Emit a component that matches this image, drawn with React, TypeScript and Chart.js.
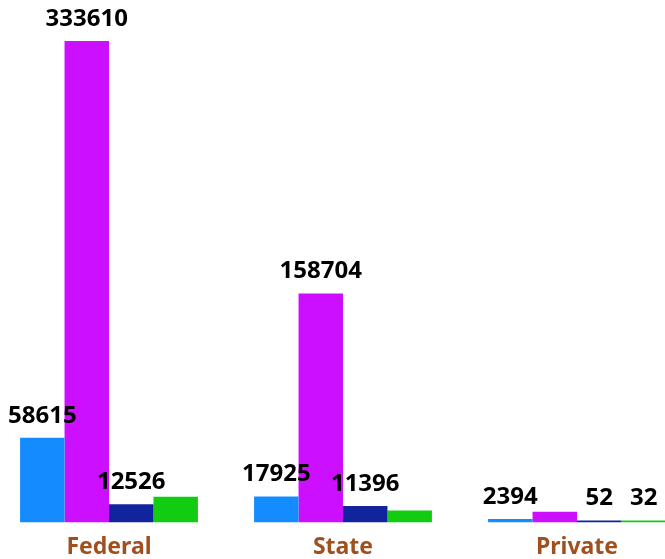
import React, { useEffect, useRef } from "react";
import { Chart, registerables } from "chart.js";

Chart.register(...registerables);

const categories = ["Federal", "State", "Private"];
const seriesNames = ["Series A", "Series B", "Series C", "Series D"];
const seriesA = [58615, 17925, 2394];
const seriesB = [333610, 158704, 7400];
const seriesC = [12526, 11396, 52];
const seriesD = [17800, 8300, 32];
const colors = ["#148CFF", "#CD0FFF", "#12239E", "#12CC12"];

const FONT = "'Noto Sans', 'Open Sans', sans-serif";

const labelPlugin = {
  id: "barLabels",
  afterDatasetsDraw(chart: any) {
    const ctx = chart.ctx;
    ctx.save();
    ctx.font = `bold 24px ${FONT}`;
    ctx.fillStyle = "#000";
    ctx.textAlign = "center";
    ctx.textBaseline = "middle";
    const drawn: { l: number; r: number; t: number; b: number }[] = [];
    chart.data.datasets.forEach((ds: any, i: number) => {
      const meta = chart.getDatasetMeta(i);
      meta.data.forEach((bar: any, j: number) => {
        const text = String(ds.data[j]);
        const w = ctx.measureText(text).width;
        const x = bar.x;
        const y = bar.y - 22;
        const rect = { l: x - w / 2, r: x + w / 2, t: y - 12, b: y + 12 };
        const hit = drawn.some(
          (d) => rect.l < d.r && rect.r > d.l && rect.t < d.b && rect.b > d.t
        );
        if (hit) return;
        drawn.push(rect);
        ctx.fillText(text, x, y);
      });
    });
    ctx.restore();
  },
};

export default function App() {
  const ref = useRef<HTMLCanvasElement>(null);
  useEffect(() => {
    if (!ref.current) return;
    const data = [seriesA, seriesB, seriesC, seriesD];
    const chart = new Chart(ref.current, {
      type: "bar",
      data: {
        labels: categories,
        datasets: data.map((d, i) => ({
          label: seriesNames[i],
          data: d,
          backgroundColor: colors[i],
          borderWidth: 0,
          minBarLength: 2,
          categoryPercentage: 0.76,
          barPercentage: 1,
        })),
      },
      options: {
        animation: false,
        responsive: true,
        maintainAspectRatio: false,
        layout: { padding: { top: 3, bottom: 0, left: 0, right: 0 } },
        plugins: { legend: { display: false }, tooltip: { enabled: false } },
        scales: {
          x: {
            grid: { display: false, drawTicks: false },
            border: { display: false },
            ticks: {
              color: "#A0501E",
              padding: 11,
              font: { family: FONT, size: 23, weight: "bold" },
            },
          },
          y: { display: false, min: 0, max: 360000 },
        },
      },
      plugins: [labelPlugin],
    });
    return () => chart.destroy();
  }, []);
  return (
    <div
      style={{
        position: "absolute",
        left: 0,
        top: 0,
        width: 665,
        height: 559,
        overflow: "hidden",
        background: "#fff",
      }}
    >
      <div style={{ position: "absolute", left: -8, top: 0, width: 702, height: 572 }}>
        <canvas ref={ref} />
      </div>
    </div>
  );
}
